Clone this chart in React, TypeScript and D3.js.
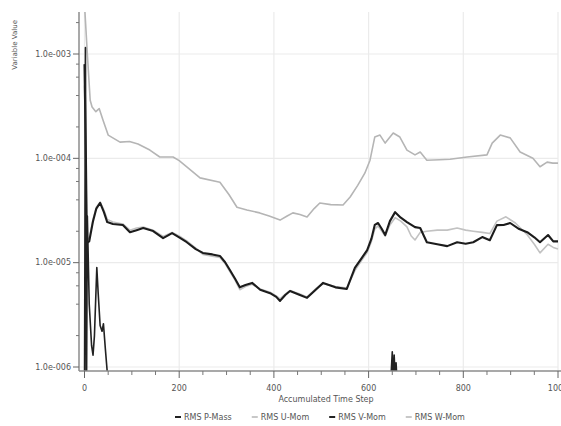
import React, { useEffect, useRef } from 'react';
import * as d3 from 'd3';

// axis ticks / labels
const xTicks = [0, 200, 400, 600, 800, 1000];
const yTicks = [1e-3, 1e-4, 1e-5, 1e-6];
const yTickLabels = ['1.0e-003', '1.0e-004', '1.0e-005', '1.0e-006'];
const seriesNames = ['RMS P-Mass', 'RMS U-Mom', 'RMS V-Mom', 'RMS W-Mom'];

// [time step, residual]
const pMass: [number, number][] = [
  [0, 5e-7], [2, 1.15e-3], [4, 3e-7], [6, 2.8e-5], [10, 4e-6], [15, 1.6e-6], [18, 1.3e-6],
  [21, 2e-6], [26, 9e-6], [29, 5e-6], [33, 2.5e-6], [37, 2.2e-6], [40, 2.6e-6], [44, 1.5e-6],
  [48, 9e-7], [55, 5e-7], [200, 4e-7], [400, 4e-7], [645, 5e-7], [650, 1.4e-6], [652, 7e-7],
  [654, 1.3e-6], [656, 8e-7], [658, 1.1e-6], [662, 5e-7], [800, 4e-7], [1000, 4e-7],
];

const uMom: [number, number][] = [
  [0, 3e-3], [6, 1e-3], [12, 3.6e-4], [16, 3.1e-4], [24, 2.8e-4], [31, 3.0e-4], [39, 2.33e-4],
  [50, 1.67e-4], [75, 1.43e-4], [95, 1.45e-4], [113, 1.37e-4], [138, 1.2e-4], [159, 1.03e-4],
  [187, 1.03e-4], [200, 9.5e-5], [216, 8.3e-5], [244, 6.5e-5], [286, 5.9e-5], [305, 4.5e-5],
  [322, 3.4e-5], [343, 3.2e-5], [370, 3.0e-5], [390, 2.8e-5], [413, 2.56e-5], [428, 2.8e-5],
  [440, 3.0e-5], [455, 2.9e-5], [470, 2.74e-5], [485, 3.3e-5], [497, 3.73e-5], [520, 3.6e-5],
  [546, 3.57e-5], [561, 4.26e-5], [577, 5.5e-5], [592, 7.2e-5], [603, 9.6e-5], [613, 1.6e-4],
  [624, 1.67e-4], [635, 1.4e-4], [652, 1.75e-4], [666, 1.6e-4], [681, 1.2e-4], [698, 1.08e-4],
  [709, 1.15e-4], [723, 9.6e-5], [750, 9.7e-5], [772, 9.8e-5], [808, 1.03e-4], [850, 1.08e-4],
  [861, 1.4e-4], [878, 1.67e-4], [899, 1.57e-4], [920, 1.15e-4], [947, 1.0e-4], [962, 8.3e-5],
  [977, 9.2e-5], [989, 9.0e-5], [1000, 9.0e-5],
];

const vMom: [number, number][] = [
  [0, 8e-4], [3, 1e-4], [5, 1.55e-5], [10, 1.6e-5], [18, 2.5e-5], [25, 3.3e-5], [33, 3.75e-5],
  [41, 3.05e-5], [48, 2.45e-5], [60, 2.35e-5], [81, 2.3e-5], [96, 1.96e-5], [110, 2.05e-5],
  [124, 2.15e-5], [145, 2.01e-5], [166, 1.72e-5], [185, 1.92e-5], [200, 1.75e-5], [216, 1.57e-5],
  [235, 1.35e-5], [250, 1.24e-5], [270, 1.2e-5], [286, 1.16e-5], [297, 1.01e-5], [307, 8.5e-6],
  [318, 7e-6], [328, 5.8e-6], [340, 6.1e-6], [354, 6.4e-6], [371, 5.5e-6], [392, 5.1e-6],
  [405, 4.7e-6], [413, 4.3e-6], [424, 4.9e-6], [434, 5.35e-6], [455, 4.9e-6], [470, 4.6e-6],
  [490, 5.6e-6], [504, 6.4e-6], [530, 5.8e-6], [554, 5.6e-6], [571, 8.9e-6], [585, 1.1e-5],
  [597, 1.32e-5], [606, 1.7e-5], [613, 2.3e-5], [620, 2.4e-5], [628, 2.1e-5], [635, 1.84e-5],
  [645, 2.5e-5], [656, 3.05e-5], [668, 2.7e-5], [681, 2.45e-5], [698, 2.19e-5], [709, 2.15e-5],
  [723, 1.57e-5], [745, 1.5e-5], [766, 1.44e-5], [787, 1.57e-5], [805, 1.52e-5], [821, 1.57e-5],
  [840, 1.76e-5], [856, 1.64e-5], [871, 2.29e-5], [885, 2.3e-5], [899, 2.4e-5], [918, 2.1e-5],
  [935, 1.96e-5], [950, 1.75e-5], [962, 1.57e-5], [979, 1.84e-5], [990, 1.6e-5], [1000, 1.6e-5],
];

const wMom: [number, number][] = [
  [0, 5e-4], [3, 8e-5], [5, 1.7e-5], [10, 1.7e-5], [18, 2.6e-5], [25, 3.4e-5], [33, 3.8e-5],
  [41, 3.2e-5], [48, 2.6e-5], [60, 2.45e-5], [81, 2.35e-5], [96, 2.05e-5], [110, 2.15e-5],
  [124, 2.2e-5], [145, 2.05e-5], [166, 1.78e-5], [185, 1.95e-5], [200, 1.8e-5], [216, 1.62e-5],
  [235, 1.38e-5], [250, 1.2e-5], [270, 1.15e-5], [286, 1.12e-5], [297, 9.8e-6], [307, 8.2e-6],
  [318, 6.8e-6], [328, 5.5e-6], [340, 5.9e-6], [354, 6.2e-6], [371, 5.6e-6], [392, 5.2e-6],
  [405, 4.8e-6], [413, 4.5e-6], [424, 5e-6], [434, 5.4e-6], [455, 5e-6], [470, 4.7e-6],
  [490, 5.7e-6], [504, 6.3e-6], [530, 5.9e-6], [554, 5.7e-6], [571, 8.4e-6], [585, 1.05e-5],
  [597, 1.25e-5], [606, 1.6e-5], [613, 2.1e-5], [620, 2.25e-5], [628, 2.0e-5], [635, 1.8e-5],
  [645, 2.3e-5], [656, 2.7e-5], [668, 2.5e-5], [681, 2.2e-5], [690, 1.8e-5], [698, 1.65e-5],
  [709, 1.95e-5], [723, 2.0e-5], [745, 2.05e-5], [766, 2.05e-5], [787, 2.15e-5], [805, 2.05e-5],
  [821, 2.0e-5], [840, 1.95e-5], [856, 1.9e-5], [871, 2.5e-5], [890, 2.75e-5], [910, 2.4e-5],
  [935, 1.85e-5], [950, 1.5e-5], [962, 1.24e-5], [979, 1.5e-5], [990, 1.4e-5], [1000, 1.35e-5],
];

const App = () => {
  const svgRef = useRef<SVGSVGElement>(null);

  useEffect(() => {
    const svg = d3.select(svgRef.current);
    svg.selectAll('*').remove();

    const W = 561;
    const H = 426;
    const font = '"DejaVu Sans", Verdana, sans-serif';

    // plot frame
    const frameLeft = 79;
    const frameTop = 12;
    const frameBottom = 371;
    const frameRight = 561;

    const x = d3.scaleLinear().domain([0, 1000]).range([84.5, 558]);
    const y = d3.scaleLog().domain([1e-6, 1e-3]).range([367, 54]);

    svg.append('rect').attr('width', W).attr('height', H).attr('fill', '#fff');

    // grid
    const grid = svg.append('g');
    grid.selectAll('.hg')
      .data(yTicks)
      .enter().append('line')
      .attr('x1', frameLeft).attr('x2', 558)
      .attr('y1', d => y(d)).attr('y2', d => y(d))
      .attr('stroke', '#ebebeb').attr('stroke-width', 1.2);
    grid.selectAll('.vg')
      .data(xTicks)
      .enter().append('line')
      .attr('x1', d => x(d)).attr('x2', d => x(d))
      .attr('y1', frameTop).attr('y2', frameBottom)
      .attr('stroke', '#ebebeb').attr('stroke-width', 1.2);

    // clip
    svg.append('defs').append('clipPath').attr('id', 'plotClip')
      .append('rect')
      .attr('x', frameLeft + 1).attr('y', frameTop)
      .attr('width', frameRight - frameLeft).attr('height', frameBottom - frameTop);

    const line = d3.line<[number, number]>()
      .x(d => x(d[0]))
      .y(d => y(d[1]));

    const plot = svg.append('g').attr('clip-path', 'url(#plotClip)');
    const drawn = [
      { data: uMom, color: '#b5b5b5', w: 1.6 },
      { data: wMom, color: '#c2c2c2', w: 1.6 },
      { data: vMom, color: '#1c1c1c', w: 2.1 },
      { data: pMass, color: '#222', w: 1.6 },
    ];
    drawn.forEach(s => {
      plot.append('path')
        .datum(s.data)
        .attr('d', line)
        .attr('fill', 'none')
        .attr('stroke', s.color)
        .attr('stroke-width', s.w)
        .attr('stroke-linejoin', 'round');
    });

    // y axis
    const ya = svg.append('g');
    ya.append('line')
      .attr('x1', frameLeft).attr('x2', frameLeft)
      .attr('y1', frameTop).attr('y2', frameBottom)
      .attr('stroke', '#8c8c8c').attr('stroke-width', 1.5);
    const minorY: number[] = [];
    [1e-6, 1e-5, 1e-4, 1e-3].forEach(dec => {
      [2, 4, 6, 8].forEach(m => {
        const v = dec * m;
        if (y(v) >= frameTop) minorY.push(v);
      });
    });
    ya.selectAll('.mt')
      .data(minorY)
      .enter().append('line')
      .attr('x1', frameLeft - 3).attr('x2', frameLeft)
      .attr('y1', d => y(d)).attr('y2', d => y(d))
      .attr('stroke', '#777');
    ya.selectAll('.Mt')
      .data(yTicks)
      .enter().append('line')
      .attr('x1', frameLeft - 6).attr('x2', frameLeft)
      .attr('y1', d => y(d)).attr('y2', d => y(d))
      .attr('stroke', '#666');
    ya.selectAll('.yl')
      .data(yTicks)
      .enter().append('text')
      .attr('x', frameLeft - 8)
      .attr('y', d => y(d))
      .attr('dy', '0.34em')
      .attr('text-anchor', 'end')
      .attr('font-family', font)
      .attr('font-size', 8)
      .attr('fill', '#555')
      .text((d, i) => yTickLabels[i]);

    svg.append('text')
      .attr('transform', `translate(17,20) rotate(-90)`)
      .attr('text-anchor', 'end')
      .attr('font-family', font)
      .attr('font-size', 7)
      .attr('fill', '#555')
      .text('Variable Value');

    // x axis
    const xa = svg.append('g');
    xa.append('line')
      .attr('x1', frameLeft).attr('x2', frameRight)
      .attr('y1', frameBottom).attr('y2', frameBottom)
      .attr('stroke', '#8c8c8c').attr('stroke-width', 1.5);
    const minorX = d3.range(0, 1001, 50).filter(v => v % 200 !== 0);
    xa.selectAll('.mx')
      .data(minorX)
      .enter().append('line')
      .attr('x1', d => x(d)).attr('x2', d => x(d))
      .attr('y1', frameBottom).attr('y2', frameBottom + 4)
      .attr('stroke', '#777');
    xa.selectAll('.Mx')
      .data(xTicks)
      .enter().append('line')
      .attr('x1', d => x(d)).attr('x2', d => x(d))
      .attr('y1', frameBottom).attr('y2', frameBottom + 7)
      .attr('stroke', '#666');
    xa.selectAll('.xl')
      .data(xTicks)
      .enter().append('text')
      .attr('x', d => x(d))
      .attr('y', frameBottom + 20)
      .attr('text-anchor', 'middle')
      .attr('font-family', font)
      .attr('font-size', 8)
      .attr('fill', '#555')
      .text(d => String(d));

    svg.append('text')
      .attr('x', 326)
      .attr('y', 402)
      .attr('text-anchor', 'middle')
      .attr('font-family', font)
      .attr('font-size', 8)
      .attr('fill', '#555')
      .text('Accumulated Time Step');

    // legend
    const legendColors = ['#222', '#c8c8c8', '#222', '#c8c8c8'];
    let lx = 175;
    seriesNames.forEach((name, i) => {
      svg.append('line')
        .attr('x1', lx).attr('x2', lx + 6)
        .attr('y1', 417).attr('y2', 417)
        .attr('stroke', legendColors[i]).attr('stroke-width', 2);
      const t = svg.append('text')
        .attr('x', lx + 9)
        .attr('y', 420)
        .attr('font-family', font)
        .attr('font-size', 8)
        .attr('fill', '#555')
        .text(name);
      const tw = (t.node() as SVGTextElement).getComputedTextLength();
      lx += 9 + tw + 20;
    });
  }, []);

  return (
    <svg
      ref={svgRef}
      width={561}
      height={426}
      style={{ position: 'absolute', left: 0, top: 0, display: 'block' }}
    />
  );
};

export default App;
